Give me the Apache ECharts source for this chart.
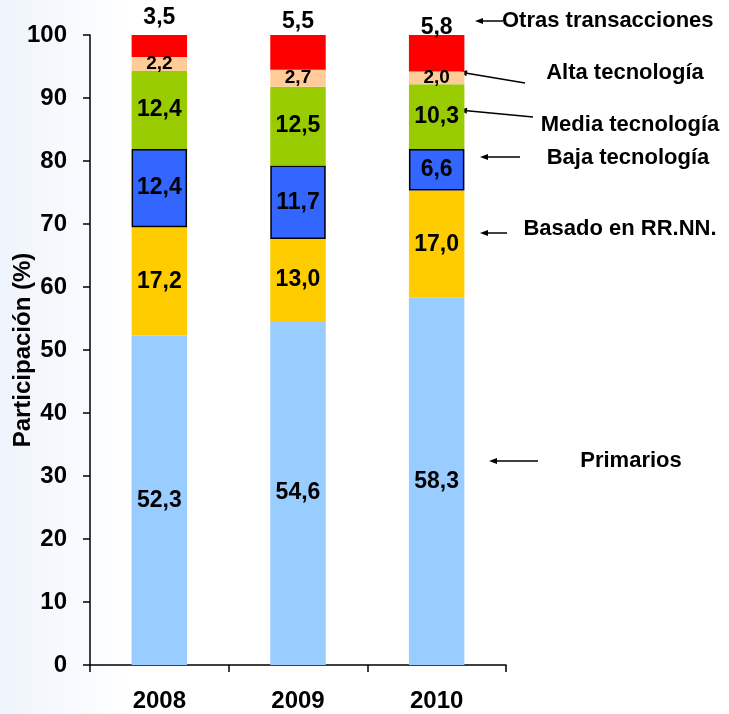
<!DOCTYPE html>
<html>
<head>
<meta charset="utf-8">
<script src="https://cdn.jsdelivr.net/npm/echarts@6/dist/echarts.min.js"></script>
<style>
html,body{margin:0;padding:0;background:#fff;}
#chart{width:729px;height:714px;}
</style>
</head>
<body>
<div id="chart"></div>
<script>
const years = ['2008', '2009', '2010'];
const primarios = [52.3, 54.6, 58.3];
const basadoRRNN = [17.2, 13.0, 17.0];
const bajaTec = [12.4, 11.7, 6.6];
const mediaTec = [12.4, 12.5, 10.3];
const altaTec = [2.2, 2.7, 2.0];
const otras = [3.5, 5.5, 5.8];
const yTicks = [0, 10, 20, 30, 40, 50, 60, 70, 80, 90, 100];
const otrasLabelShift = [-1, 3, 9];

const FONT = '"Liberation Sans", Arial, sans-serif';
const fmt = v => v.toFixed(1).replace('.', ',');

function labelCfg(size) {
  return {
    show: true, position: 'inside', color: '#000', fontFamily: FONT,
    fontWeight: 'bold', fontSize: size,
    formatter: p => fmt(p.value)
  };
}

function barSeries(name, data, color, size, extra) {
  return Object.assign({
    name: name, type: 'bar', stack: 'total', barWidth: '40%',
    data: data, itemStyle: { color: color },
    label: labelCfg(size)
  }, extra || {});
}

const chart = echarts.init(document.getElementById('chart'));

const annFont = { fontFamily: FONT, fontWeight: 'bold', fontSize: 22, fill: '#000' };
function arrow(x1, y1, x2, y2) {
  const ang = Math.atan2(y2 - y1, x2 - x1);
  const L = 8, W = 3;
  const bx = x2 - L * Math.cos(ang), by = y2 - L * Math.sin(ang);
  const px = -Math.sin(ang) * W, py = Math.cos(ang) * W;
  return [
    { type: 'line', shape: { x1: x1, y1: y1, x2: bx, y2: by }, style: { stroke: '#000', lineWidth: 1.5 } },
    { type: 'polygon', shape: { points: [[x2, y2], [bx + px, by + py], [bx - px, by - py]] }, style: { fill: '#000' } }
  ];
}
function txt(t, x, y, align) {
  return { type: 'text', x: x, y: y, style: Object.assign({ text: t, align: align, verticalAlign: 'middle' }, annFont) };
}

const graphics = [].concat(
  arrow(503, 21, 475, 21),
  arrow(525, 83, 459, 72),
  arrow(533, 117, 459, 110),
  arrow(520, 157, 480, 157),
  arrow(507, 233, 480, 233),
  arrow(538, 461, 489, 461),
  [
    txt('Otras transacciones', 502, 21, 'left'),
    txt('Alta tecnología', 625, 73, 'center'),
    txt('Media tecnología', 630, 125, 'center'),
    txt('Baja tecnología', 628, 158, 'center'),
    txt('Basado en RR.NN.', 620, 229, 'center'),
    txt('Primarios', 631, 461, 'center')
  ]
);

const option = {
  backgroundColor: {
    type: 'linear', x: 0, y: 0, x2: 1, y2: 0,
    colorStops: [{ offset: 0, color: '#EEF4FB' }, { offset: 0.18, color: '#FFFFFF' }, { offset: 1, color: '#FFFFFF' }]
  },
  animation: false,
  grid: { left: 90, right: 223, top: 35, bottom: 49, containLabel: false, outerBoundsMode: 'none' },
  xAxis: {
    type: 'category', data: years,
    axisLine: { lineStyle: { color: '#000', width: 1.5 } },
    axisTick: { show: true, length: 7, lineStyle: { color: '#000', width: 1.5 } },
    axisLabel: { color: '#000', fontFamily: FONT, fontWeight: 'bold', fontSize: 24, margin: 24 }
  },
  yAxis: {
    type: 'value', min: yTicks[0], max: yTicks[yTicks.length - 1], interval: 10,
    name: 'Participación (%)', nameLocation: 'middle', nameGap: 55, nameMoveOverlap: false,
    nameTextStyle: { color: '#000', fontFamily: FONT, fontWeight: 'bold', fontSize: 24 },
    axisLine: { show: true, lineStyle: { color: '#000', width: 1.5 } },
    axisTick: { show: true, length: 7, lineStyle: { color: '#000', width: 1.5 } },
    splitLine: { show: false },
    axisLabel: { color: '#000', fontFamily: FONT, fontWeight: 'bold', fontSize: 24, margin: 23 }
  },
  series: [
    barSeries('Primarios', primarios, '#99CCFF', 23),
    barSeries('Basado en RR.NN.', basadoRRNN, '#FFCC00', 23),
    barSeries('Baja tecnología', bajaTec, '#3366FF', 23, { itemStyle: { color: '#3366FF', borderColor: '#000', borderWidth: 1.5 } }),
    barSeries('Media tecnología', mediaTec, '#99CC00', 23),
    barSeries('Alta tecnología', altaTec, '#FFCC99', 19),
    barSeries('Otras transacciones', otras.map((v, i) => ({
      value: v, label: { offset: [0, otrasLabelShift[i]] }
    })), '#FF0000', 23, {
      label: Object.assign(labelCfg(23), { position: 'top', distance: 5 })
    })
  ],
  graphic: graphics
};
chart.setOption(option);
</script>
</body>
</html>
